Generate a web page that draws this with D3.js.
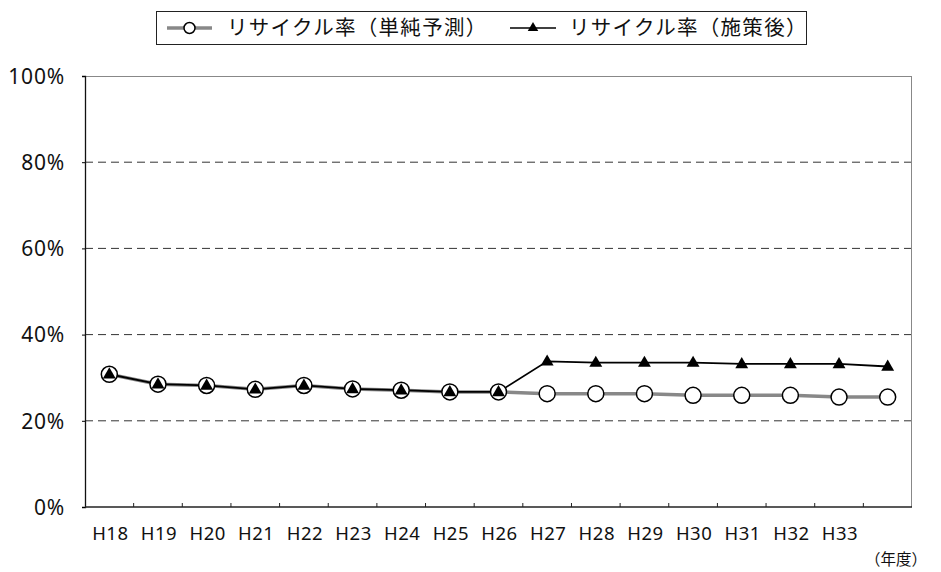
<!DOCTYPE html>
<html>
<head>
<meta charset="utf-8">
<script src="https://cdnjs.cloudflare.com/ajax/libs/d3/7.8.5/d3.min.js"></script>
<style>
  body { margin: 0; background: #fff; }
  text { font-family: "Noto Sans", "Noto Sans CJK JP", sans-serif; fill: #111; }
  .jp { font-family: "Noto Sans CJK JP", sans-serif; }
</style>
</head>
<body>
<script>
var width = 941;
var height = 572;
var margin = {top: 76, right: 29, bottom: 65, left: 85};
var w = width - margin.left - margin.right;
var h = height - margin.top - margin.bottom;

// years on the category axis (last slot has no label)
var years = ["H18","H19","H20","H21","H22","H23","H24","H25","H26","H27","H28","H29","H30","H31","H32","H33",""];
// recycle rate (%), simple forecast
var simpleRate = [30.8, 28.5, 28.2, 27.3, 28.2, 27.4, 27.1, 26.7, 26.7, 26.3, 26.3, 26.3, 25.9, 25.9, 25.9, 25.5, 25.5];
// recycle rate (%), after measures
var appliedRate = [30.8, 28.5, 28.2, 27.3, 28.2, 27.4, 27.1, 26.7, 26.7, 33.8, 33.5, 33.5, 33.5, 33.2, 33.2, 33.2, 32.6];
var yTicks = [0, 20, 40, 60, 80, 100];
var seriesNames = ["リサイクル率（単純予測）", "リサイクル率（施策後）"];

var svg = d3.select("body").append("svg")
    .attr("width", width)
    .attr("height", height);

var chart = svg.append("g")
    .attr("transform", "translate(" + margin.left + "," + margin.top + ")");

var x = d3.scaleBand()
    .domain(d3.range(years.length))
    .range([0, w]);

var y = d3.scaleLinear()
    .domain([0, 100])
    .range([h, 0]);

//dashed gridlines
chart.selectAll(".grid")
    .data(yTicks.filter(function(d) { return d > 0 && d < 100; }))
  .enter().append("line")
    .attr("x1", 0)
    .attr("x2", w)
    .attr("y1", function(d) { return y(d); })
    .attr("y2", function(d) { return y(d); })
    .attr("stroke", "#333")
    .attr("stroke-width", 1)
    .attr("stroke-dasharray", "8,5");

//top and right frame
chart.append("line")
    .attr("x1", 0).attr("x2", w).attr("y1", 0.5).attr("y2", 0.5)
    .attr("stroke", "#888");
chart.append("line")
    .attr("x1", w - 0.5).attr("x2", w - 0.5).attr("y1", 0).attr("y2", h)
    .attr("stroke", "#888");

//y axis
var yAxis = d3.axisLeft(y)
    .tickValues(yTicks)
    .tickSize(3)
    .tickPadding(17)
    .tickFormat(function(d) { return d + "%"; });

var gy = chart.append("g").call(yAxis);
gy.select(".domain").attr("stroke", "#111").attr("stroke-width", 1.3);
gy.selectAll("text")
    .style("font-size", "21px")
    .style("letter-spacing", "0.8px")
    .attr("dy", "0.35em");

//x axis: ticks on band boundaries, pointing up
var gx = chart.append("g")
    .attr("transform", "translate(0," + h + ")");
gx.append("line")
    .attr("x1", 0).attr("x2", w).attr("y1", 0).attr("y2", 0)
    .attr("stroke", "#222").attr("stroke-width", 1.5);
gx.selectAll(".tk")
    .data(d3.range(1, years.length))
  .enter().append("line")
    .attr("x1", function(d) { return x(d); })
    .attr("x2", function(d) { return x(d); })
    .attr("y1", 0)
    .attr("y2", -4)
    .attr("stroke", "#222");
gx.selectAll(".lbl")
    .data(years)
  .enter().append("text")
    .attr("x", function(d, i) { return x(i) + x.bandwidth() / 2 + 1; })
    .attr("y", 33)
    .attr("text-anchor", "middle")
    .style("font-size", "18.5px")
    .style("letter-spacing", "0.5px")
    .text(function(d) { return d; });

chart.append("text")
    .attr("class", "jp")
    .attr("x", 842)
    .attr("y", 489)
    .attr("text-anchor", "end")
    .style("font-size", "15.5px")
    .text("（年度）");

var cx = function(d, i) { return x(i) + x.bandwidth() / 2; };
var line = d3.line()
    .x(function(d, i) { return cx(d, i); })
    .y(function(d) { return y(d); });

chart.append("path")
    .datum(simpleRate)
    .attr("d", line)
    .attr("fill", "none")
    .attr("stroke", "#888")
    .attr("stroke-width", 3.5);

chart.append("path")
    .datum(appliedRate)
    .attr("d", line)
    .attr("fill", "none")
    .attr("stroke", "#000")
    .attr("stroke-width", 1.8);

chart.selectAll(".dot")
    .data(simpleRate)
  .enter().append("circle")
    .attr("cx", cx)
    .attr("cy", function(d) { return y(d); })
    .attr("r", 8)
    .attr("fill", "#fff")
    .attr("stroke", "#000")
    .attr("stroke-width", 1.5);

var tri = d3.symbol().type(d3.symbolTriangle).size(72);
chart.selectAll(".tri")
    .data(appliedRate)
  .enter().append("path")
    .attr("d", tri)
    .attr("transform", function(d, i) { return "translate(" + cx(d, i) + "," + (y(d) + 0.5) + ")"; })
    .attr("fill", "#000");

//legend
var legend = svg.append("g");
legend.append("rect")
    .attr("x", 156.5).attr("y", 11.5)
    .attr("width", 650).attr("height", 33)
    .attr("fill", "#fff")
    .attr("stroke", "#222");

var l1 = legend.append("g").attr("transform", "translate(0,28)");
l1.append("line")
    .attr("x1", 167).attr("x2", 212).attr("y1", 0).attr("y2", 0)
    .attr("stroke", "#888").attr("stroke-width", 3.5);
l1.append("circle")
    .attr("cx", 189.5).attr("cy", 0).attr("r", 5.5)
    .attr("fill", "#fff").attr("stroke", "#000").attr("stroke-width", 1.5);
l1.append("text")
    .attr("class", "jp")
    .attr("x", 227).attr("y", 0).attr("dy", "0.36em")
    .style("font-size", "20.5px")
    .style("letter-spacing", "1.3px")
    .text(seriesNames[0]);

var l2 = legend.append("g").attr("transform", "translate(0,28)");
l2.append("line")
    .attr("x1", 510).attr("x2", 556).attr("y1", 0).attr("y2", 0)
    .attr("stroke", "#000").attr("stroke-width", 1.5);
l2.append("path")
    .attr("d", d3.symbol().type(d3.symbolTriangle).size(48))
    .attr("transform", "translate(533,0)")
    .attr("fill", "#000");
l2.append("text")
    .attr("class", "jp")
    .attr("x", 569).attr("y", 0).attr("dy", "0.36em")
    .style("font-size", "20.5px")
    .style("letter-spacing", "1.3px")
    .text(seriesNames[1]);
</script>
</body>
</html>
